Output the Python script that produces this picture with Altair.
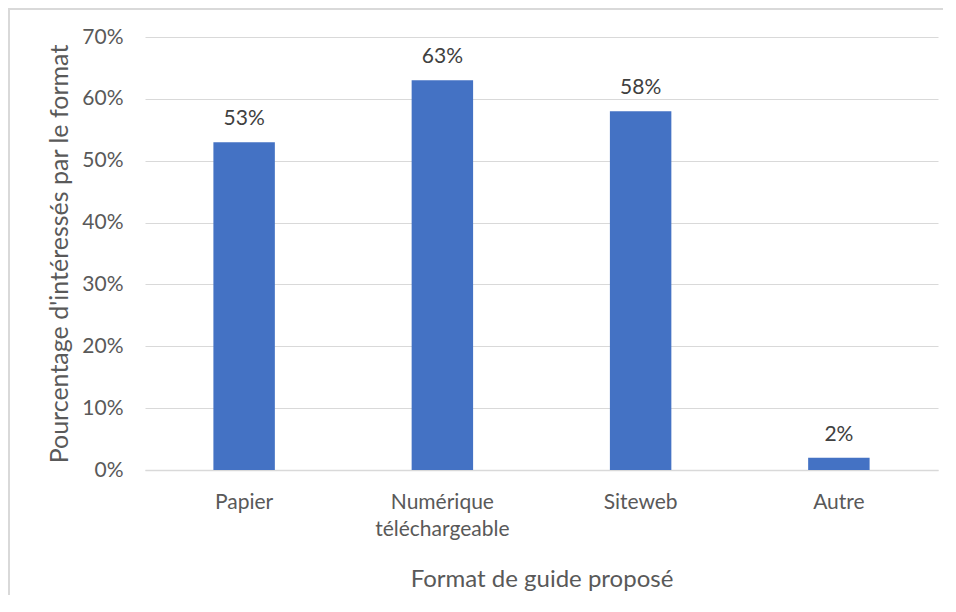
import altair as alt
import pandas as pd

categories = ["Papier", "Numérique\ntéléchargeable", "Siteweb", "Autre"]
values = [0.53, 0.63, 0.58, 0.02]
labels = ["53%", "63%", "58%", "2%"]

df = pd.DataFrame({"cat": categories, "val": values, "lab": labels})

FONT = "Lato"

x = alt.X("cat:N", sort=categories,
          scale=alt.Scale(paddingInner=0.69, paddingOuter=0.345),
          axis=alt.Axis(title="Format de guide proposé", labelAngle=0,
                        labelExpr="split(datum.label, '\\n')",
                        labelFontSize=21, labelColor="#595959", labelFont=FONT,
                        labelPadding=21, labelLineHeight=27,
                        domain=True, domainColor="#d9d9d9", domainWidth=1.5,
                        ticks=False, titleFontSize=24, titleColor="#595959",
                        titleFont=FONT, titleFontWeight="normal", titlePadding=28))
y = alt.Y("val:Q", scale=alt.Scale(domain=[0, 0.7]),
          axis=alt.Axis(title="Pourcentage d'intéressés par le format", format=".0%",
                        values=[0, 0.1, 0.2, 0.3, 0.4, 0.5, 0.6, 0.7],
                        labelFontSize=21, labelColor="#595959", labelFont=FONT,
                        labelPadding=22, domain=False, ticks=False,
                        grid=True, gridColor="#d9d9d9", gridWidth=1.2,
                        titleFontSize=25, titleColor="#595959", titleFont=FONT,
                        titleFontWeight="normal", titlePadding=9))

bars = alt.Chart(df).mark_bar(color="#4472c4").encode(x=x, y=y)
text = alt.Chart(df).mark_text(baseline="bottom", dy=-13, fontSize=21,
                               color="#404040", font=FONT).encode(
    x=alt.X("cat:N", sort=categories), y="val:Q", text="lab:N")

frame_top = alt.Chart(df).mark_rule(stroke="#d9d9d9", strokeWidth=2).encode(
    x=alt.value(-137), x2=alt.value(805), y=alt.value(-28))
frame_left = alt.Chart(df).mark_rule(stroke="#d9d9d9", strokeWidth=2).encode(
    x=alt.value(-136), y=alt.value(-29), y2=alt.value(580))

chart = alt.layer(frame_top, frame_left, bars, text).properties(
    width=793, height=433,
    autosize=alt.AutoSizeParams(type="none"),
    padding={"left": 137, "top": 29, "right": 5, "bottom": 125},
).configure_view(stroke=None)

chart.save("out.html", embed_options={"renderer": "svg", "actions": False})
